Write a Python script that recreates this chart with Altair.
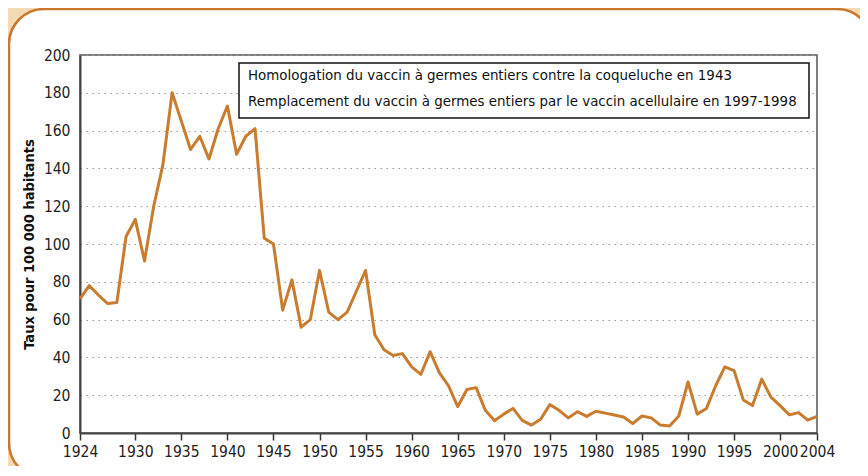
import altair as alt
import pandas as pd

years = list(range(1924, 2005))
rates = [
    71, 78, 73, 68.5, 69, 104, 113, 91, 120, 142,          # 1924-1933
    180, 165, 150, 157, 145, 161, 173, 147.5, 157, 161,    # 1934-1943
    103, 100, 65, 81, 56, 60, 86, 64, 60, 64,              # 1944-1953
    75, 86, 52, 44, 41, 42, 35, 31, 43, 32,                # 1954-1963
    25, 14, 23, 24, 12, 6.5, 10, 13, 6.7, 4.2,             # 1964-1973
    7.3, 15, 12, 8, 11.3, 8.8, 11.5, 10.5, 9.5, 8.5,       # 1974-1983
    5, 9, 8, 4.2, 3.7, 9, 27, 10, 13, 25,                  # 1984-1993
    35, 33, 17.5, 14.5, 28.5, 19, 14.5, 9.6, 10.8, 6.8,    # 1994-2003
    8.8,                                                   # 2004
]
x_ticks = [1924, 1930, 1935, 1940, 1945, 1950, 1955, 1960, 1965, 1970,
           1975, 1980, 1985, 1990, 1995, 2000, 2004]
y_ticks = list(range(0, 201, 20))
legend_lines = [
    "Homologation du vaccin à germes entiers contre la coqueluche en 1943",
    "Remplacement du vaccin à germes entiers par le vaccin acellulaire en 1997-1998",
]
y_title = "Taux pour 100 000 habitants"

FONT = "DejaVu Sans Condensed, sans-serif"
LINE_COLOR = "#c97b2e"
BORDER_COLOR = "#c8782c"
BEIGE = "#f3dab4"

df = pd.DataFrame({"year": years, "rate": rates})
one = pd.DataFrame({"a": [0]})

line = alt.Chart(df).mark_line(color=LINE_COLOR, strokeWidth=3, strokeJoin="round").encode(
    x=alt.X("year:Q",
            scale=alt.Scale(domain=[1924, 2004], nice=False, zero=False),
            axis=alt.Axis(values=x_ticks, format="d", title=None, grid=False,
                          tickSize=7, tickColor="#333", tickWidth=1.5,
                          labelPadding=4, labelFlush=False, labelOverlap=False,
                          labelFont=FONT, labelFontSize=15.5, labelColor="#222",
                          domainColor="#444", domainWidth=2)),
    y=alt.Y("rate:Q",
            scale=alt.Scale(domain=[0, 200], nice=False),
            axis=alt.Axis(values=y_ticks, title=y_title, ticks=False, tickSize=0,
                          labelPadding=10, labelFont=FONT, labelFontSize=15.5, labelColor="#222",
                          grid=True, gridColor="#999", gridDash=[1.5, 4.5], gridWidth=1.2,
                          domainColor="#444", domainWidth=2,
                          titleFont=FONT, titleFontSize=14.5, titleFontWeight="bold",
                          titleColor="#111", titleAngle=270, titleX=-51, titleY=189,
                          titleAlign="center", titleBaseline="middle")),
)

legend_box = alt.Chart(one).mark_rect(fill="white", stroke="#111", strokeWidth=1.5).encode(
    x=alt.value(159), x2=alt.value(729), y=alt.value(8), y2=alt.value(63)
)
legend_text = alt.layer(*[
    alt.Chart(one).mark_text(align="left", baseline="alphabetic", font=FONT,
                             fontSize=14.9, color="#111").encode(
        x=alt.value(168), y=alt.value(yy), text=alt.value(t))
    for t, yy in zip(legend_lines, [25, 51])
])

beige_frame = alt.Chart(one).mark_rect(fill="transparent", stroke=BEIGE, strokeWidth=24,
                                       cornerRadius=47).encode(
    x=alt.value(-82.5), x2=alt.value(804), y=alt.value(-57.5), y2=alt.value(435)
)
panel = alt.Chart(one).mark_rect(fill="transparent", stroke=BORDER_COLOR, strokeWidth=2.5,
                                 cornerRadius=35).encode(
    x=alt.value(-71), x2=alt.value(792), y=alt.value(-46), y2=alt.value(423)
)

chart = alt.layer(beige_frame, panel, line, legend_box, legend_text).properties(
    width=737, height=378,
    autosize=alt.AutoSizeParams(type="none"),
    padding={"left": 72, "top": 47, "right": 43, "bottom": 33},
    background="white",
).configure_view(stroke="#555", strokeWidth=1.5)

chart.save("out.html", embed_options={"renderer": "svg", "actions": False})
